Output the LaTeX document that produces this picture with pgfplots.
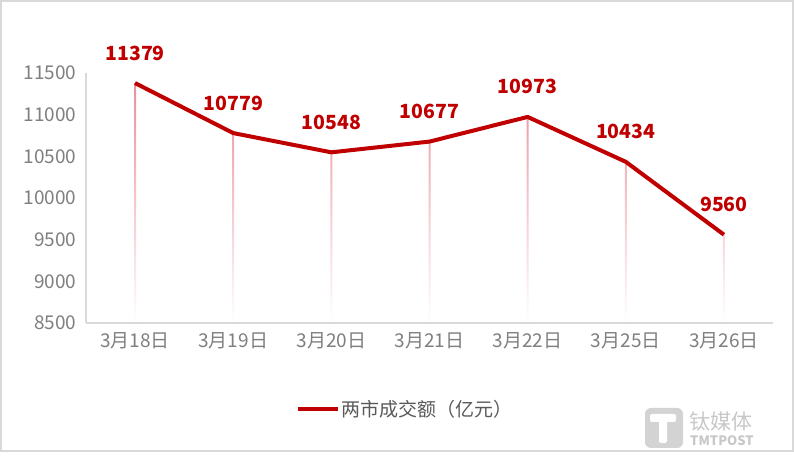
\documentclass[border=0pt]{standalone}
\usepackage{pgfplots}
\usepackage{pgfplotstable}
\usepackage{fontspec}
\pgfplotsset{compat=1.18}
\setmainfont{Noto Sans CJK SC}

\definecolor{cred}{HTML}{C00000}
\definecolor{ctick}{HTML}{7F7F7F}
\definecolor{cleg}{HTML}{595959}
\definecolor{caxis}{HTML}{D9D9D9}
\definecolor{cpink}{HTML}{E8909B}
\definecolor{cmark}{HTML}{C8C8C8}

\pgfplotstableread{
x v
0 11379
1 10779
2 10548
3 10677
4 10973
5 10434
6 9560
}\data

\begin{document}
\begin{tikzpicture}
\path[use as bounding box, fill=white] (0pt,0pt) rectangle (794pt,465pt);
\draw[caxis, line width=2pt] (1pt,14pt) rectangle (793pt,464pt);

% drop lines, fading downwards
\begin{axis}[
    at={(86pt,142pt)}, anchor=south west,
    scale only axis, width=687pt, height=250pt,
    xmin=-0.5, xmax=6.5, ymin=0, ymax=3000,
    hide axis
]
\addplot[ybar, bar width=2pt, draw=none, top color=cpink, bottom color=white]
    table[x=x, y expr=\thisrow{v}-8500] {\data};
\end{axis}

\begin{axis}[
    at={(86pt,142pt)}, anchor=south west,
    scale only axis, width=687pt, height=250pt,
    xmin=-0.5, xmax=6.5, ymin=8500, ymax=11500,
    xtick={0,...,6},
    xticklabels={3月18日,3月19日,3月20日,3月21日,3月22日,3月25日,3月26日},
    ytick={8500,9000,...,11500},
    axis x line*=bottom, axis y line*=left,
    axis line style={caxis, line width=1.5pt, -},
    major tick length=0pt,
    scaled y ticks=false,
    /pgf/number format/1000 sep={},
    /pgf/number format/assume math mode=true,
    tick label style={text=ctick, font=\fontsize{19}{22}\selectfont},
    yticklabel style={xshift=-6pt},
    xticklabel style={yshift=-6pt},
    legend style={draw=none, at={(0.465,-0.344)}, anchor=center,
        font=\fontsize{19}{22}\selectfont, text=cleg},
    legend image code/.code={\draw[cred, line width=4pt] (0pt,0pt) -- (40pt,0pt);},
]
\addplot[cred, line width=4pt, line join=round,
    nodes near coords={\pgfmathprintnumber[fixed,precision=0,1000 sep={}]{\pgfplotspointmeta}},
    every node near coord/.append style={anchor=base, yshift=23pt, text=cred,
        font=\fontsize{19.5}{22}\selectfont\bfseries}]
    table[x=x, y=v] {\data};
\addlegendentry{两市成交额（亿元）}
\end{axis}

% watermark
\fill[cmark!80, rounded corners=6pt] (645pt,17pt) rectangle (683pt,57pt);
\fill[white, rounded corners=2pt] (650pt,43pt) rectangle (676pt,51pt);
\fill[white, rounded corners=2pt] (659pt,22pt) rectangle (667pt,46pt);
\node[anchor=west, text=cmark, font=\fontsize{21}{21}\selectfont, inner sep=0pt] at (689pt,43pt) {钛媒体};
\node[anchor=west, text=cmark, font=\fontsize{13}{13}\selectfont\bfseries, inner sep=0pt] at (690pt,24pt) {TMTPOST};
\end{tikzpicture}
\end{document}
